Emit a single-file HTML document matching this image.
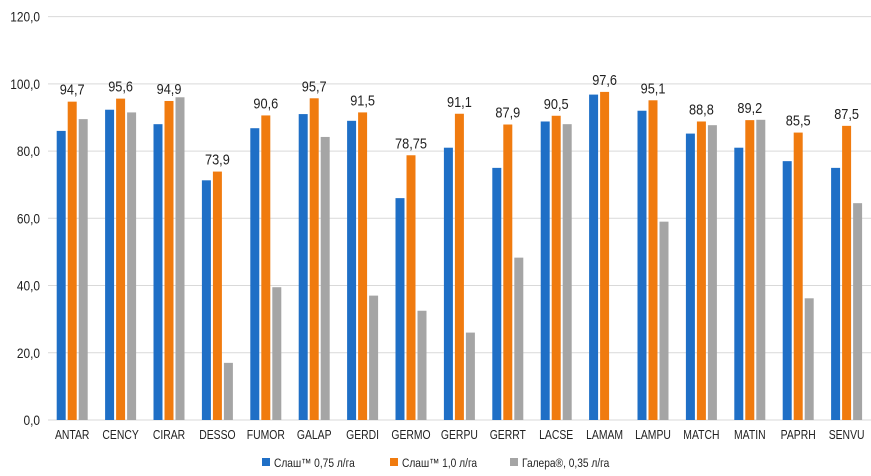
<!DOCTYPE html>
<html><head><meta charset="utf-8"><style>
html,body{margin:0;padding:0;background:#fff;}
svg{display:block;font-family:"Liberation Sans",sans-serif;}
</style></head><body>
<svg id="c" width="871" height="476" xmlns="http://www.w3.org/2000/svg"></svg>
<script>
const s=document.getElementById('c');
const cats=["ANTAR","CENCY","CIRAR","DESSO","FUMOR","GALAP","GERDI","GERMO","GERPU","GERRT","LACSE","LAMAM","LAMPU","MATCH","MATIN","PAPRH","SENVU"];
const b=[86,92.3,88,71.3,86.8,91,89,66,81,75,88.8,96.8,92,85.2,81,77,75];
const o=[94.7,95.6,94.9,73.9,90.6,95.7,91.5,78.75,91.1,87.9,90.5,97.6,95.1,88.8,89.2,85.5,87.5];
const ol=["94,7","95,6","94,9","73,9","90,6","95,7","91,5","78,75","91,1","87,9","90,5","97,6","95,1","88,8","89,2","85,5","87,5"];
const g=[89.5,91.5,96,17,39.5,84.2,37,32.5,26,48.3,88,0,59,87.7,89.3,36.2,64.5];
const y0=420,k=403.4/120;const Y=v=>y0-v*k;
const T=(x,y,t,fs,anc,sx)=>`<text transform="translate(${x},${y}) scale(${sx},1)" text-anchor="${anc}" font-size="${fs}" fill="#222">${t}</text>`;
let h='';
for(let i=0;i<=6;i++){const y=Y(i*20);h+=`<line x1="48" x2="871" y1="${y}" y2="${y}" stroke="#d9d9d9" stroke-width="1"/>`;
h+=T(40,y+5,i*20+',0',14,'end',0.85);}
const x0=48,w=48.4,bw=9;
cats.forEach((c,i)=>{const cx=x0+w*(i+0.5);
[[b[i],'#1f6fc6',-11],[o[i],'#f07b0f',0],[g[i],'#a5a5a5',11]].forEach(([v,col,d])=>{if(v>0)h+=`<rect x="${cx+d-bw/2}" y="${Y(v)}" width="${bw}" height="${v*k}" fill="${col}"/>`;});
h+=T(cx,Y(o[i])-7,ol[i],15,'middle',0.85);
h+=T(cx,439,c,13,'middle',0.8);});
const L=[[262,'#1f6fc6','Слаш™ 0,75 л/га'],[390,'#f07b0f','Слаш™ 1,0 л/га'],[510,'#a5a5a5','Галера®, 0,35 л/га']];
L.forEach(([x,c,t])=>{h+=`<rect x="${x}" y="458" width="8" height="8" fill="${c}"/>`+T(x+12,467,t,12,'start',0.85);});
s.innerHTML=h;
</script>
</body></html>
